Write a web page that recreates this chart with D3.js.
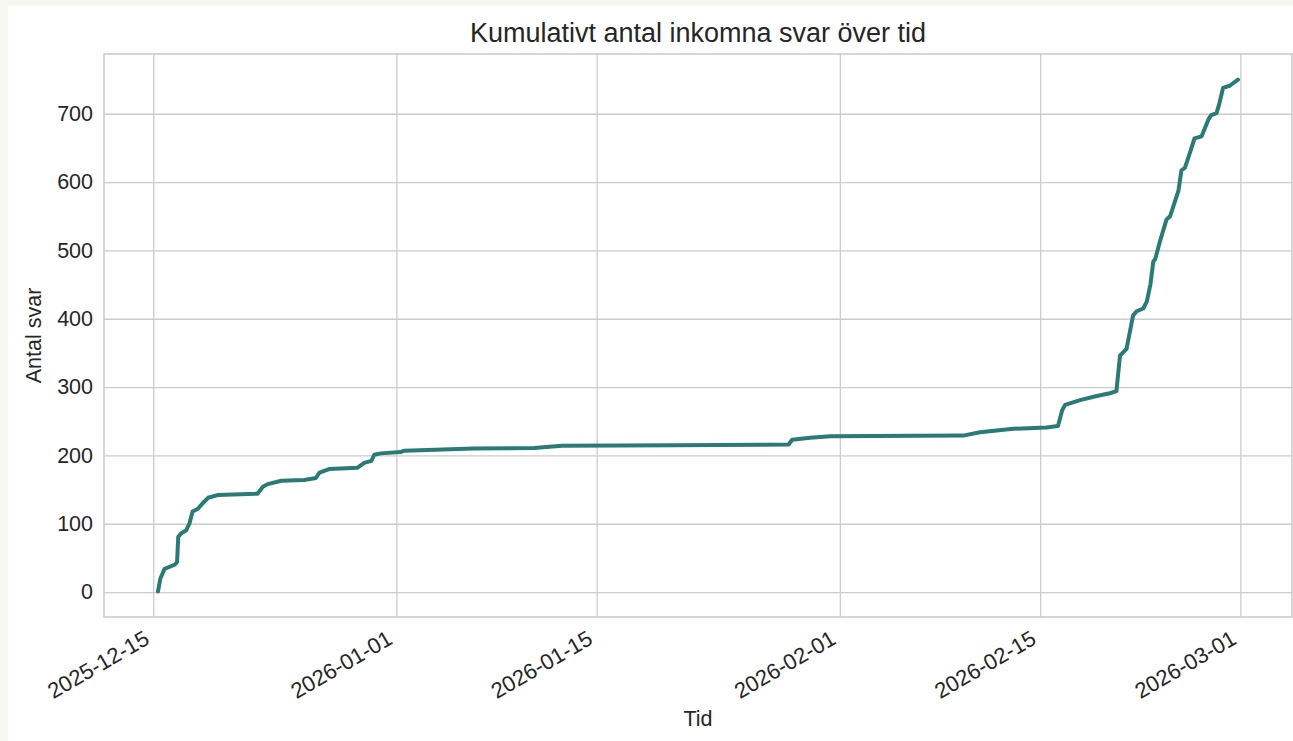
<!DOCTYPE html>
<html>
<head>
<meta charset="utf-8">
<script src="https://cdn.jsdelivr.net/npm/d3@7"></script>
<style>
  body { margin: 0; background: #f8f6f0; }
  #chart { position: absolute; left: 8px; top: 6px; }
  text { font-family: "Liberation Sans", Arial, sans-serif; fill: #262626; }
</style>
</head>
<body>
<div id="chart"></div>
<script>
// cumulative count of responses
const times = [
    "2025-12-15T08:00", "2025-12-15T12:00", "2025-12-15T19:00", "2025-12-16T12:00",
    "2025-12-16T16:00", "2025-12-16T18:00", "2025-12-16T23:00", "2025-12-17T07:00",
    "2025-12-17T13:00", "2025-12-17T18:00", "2025-12-18T03:00", "2025-12-18T11:00",
    "2025-12-18T20:00", "2025-12-19T12:00", "2025-12-22T07:00", "2025-12-22T16:00",
    "2025-12-23T00:00", "2025-12-23T23:00", "2025-12-25T13:00", "2025-12-26T09:00",
    "2025-12-26T15:00", "2025-12-27T07:00", "2025-12-29T07:00", "2025-12-29T18:00",
    "2025-12-30T06:00", "2025-12-30T11:00", "2025-12-30T22:00", "2026-01-01T07:00",
    "2026-01-01T13:00", "2026-01-06T10:00", "2026-01-10T15:00", "2026-01-12T14:00",
    "2026-01-20T10:00", "2026-01-28T10:00", "2026-01-28T16:00", "2026-01-29T22:00",
    "2026-01-31T08:00", "2026-02-09T15:00", "2026-02-10T19:00", "2026-02-13T03:00",
    "2026-02-15T11:00", "2026-02-16T06:00", "2026-02-16T13:00", "2026-02-16T18:00",
    "2026-02-17T19:00", "2026-02-18T23:00", "2026-02-19T21:00", "2026-02-20T08:00",
    "2026-02-20T14:00", "2026-02-21T01:00", "2026-02-21T12:00", "2026-02-21T18:00",
    "2026-02-22T05:00", "2026-02-22T11:00", "2026-02-22T17:00", "2026-02-22T22:00",
    "2026-02-23T01:00", "2026-02-23T09:00", "2026-02-23T20:00", "2026-02-24T02:00",
    "2026-02-24T16:00", "2026-02-24T21:00", "2026-02-25T03:00", "2026-02-25T11:00",
    "2026-02-25T19:00", "2026-02-26T07:00", "2026-02-26T18:00", "2026-02-26T23:00",
    "2026-02-27T08:00", "2026-02-27T13:00", "2026-02-27T19:00", "2026-02-28T06:00",
    "2026-02-28T20:00"
];
const counts = [
    1, 20, 34, 40, 44, 81, 86, 90, 101, 118, 122, 130,
    138, 142, 144, 154, 158, 163, 164, 167, 175, 180, 182, 189,
    192, 201, 203, 205, 207, 210, 211, 214, 215, 216, 223, 226,
    228, 229, 234, 239, 241, 243, 266, 274, 281, 287, 291, 294,
    346, 356, 405, 411, 415, 425, 450, 484, 487, 513, 545, 550,
    587, 617, 621, 642, 664, 667, 691, 698, 701, 716, 738, 741,
    750
];
const xTicks = ["2025-12-15", "2026-01-01", "2026-01-15", "2026-02-01", "2026-02-15", "2026-03-01"];
const yTicks = [0, 100, 200, 300, 400, 500, 600, 700];

const title = "Kumulativt antal inkomna svar över tid";
const xLabel = "Tid";
const yLabel = "Antal svar";

const width = 1285, height = 735;
const margin = {top: 48, right: 1, bottom: 124, left: 96};

const parse = d3.timeParse("%Y-%m-%dT%H:%M");
const parseDay = d3.timeParse("%Y-%m-%d");
const data = times.map((t, i) => ({t: parse(t), v: counts[i]}));

// matplotlib style 5% margins
const tExt = d3.extent(data, d => d.t);
const tPad = (tExt[1] - tExt[0]) * 0.05;
const vExt = d3.extent(data, d => d.v);
const vPad = (vExt[1] - vExt[0]) * 0.05;

const x = d3.scaleTime()
    .domain([new Date(+tExt[0] - tPad), new Date(+tExt[1] + tPad)])
    .range([margin.left, width - margin.right]);
const y = d3.scaleLinear()
    .domain([vExt[0] - vPad, vExt[1] + vPad])
    .range([height - margin.bottom, margin.top]);

const svg = d3.select("#chart").append("svg")
    .attr("width", width)
    .attr("height", height)
    .style("background", "#ffffff");

// grid
svg.append("g")
    .attr("transform", `translate(0,${height - margin.bottom})`)
    .call(d3.axisBottom(x).tickValues(xTicks.map(parseDay)).tickSize(-(height - margin.top - margin.bottom)).tickFormat(d3.timeFormat("%Y-%m-%d")))
    .call(g => g.select(".domain").remove())
    .call(g => g.selectAll(".tick line").attr("stroke", "#cccccc").attr("stroke-width", 1.3))
    .call(g => g.selectAll(".tick text")
        .attr("font-size", 22)
        .attr("text-anchor", "end")
        .attr("dy", null)
        .attr("y", 0)
        .attr("transform", "translate(-3,26) rotate(-30)"));

svg.append("g")
    .attr("transform", `translate(${margin.left},0)`)
    .call(d3.axisLeft(y).tickValues(yTicks).tickSize(-(width - margin.left - margin.right)))
    .call(g => g.select(".domain").remove())
    .call(g => g.selectAll(".tick line").attr("stroke", "#cccccc").attr("stroke-width", 1.3))
    .call(g => g.selectAll(".tick text").attr("font-size", 21.5).attr("x", -11));

// frame
svg.append("rect")
    .attr("x", margin.left)
    .attr("y", margin.top)
    .attr("width", width - margin.left - margin.right)
    .attr("height", height - margin.top - margin.bottom)
    .attr("fill", "none")
    .attr("stroke", "#cccccc")
    .attr("stroke-width", 1.6);

const line = d3.line()
    .x(d => x(d.t))
    .y(d => y(d.v));

svg.append("path")
    .datum(data)
    .attr("d", line)
    .attr("fill", "none")
    .attr("stroke", "#2a7a76")
    .attr("stroke-width", 4)
    .attr("stroke-linejoin", "round")
    .attr("stroke-linecap", "round");

svg.append("text")
    .attr("x", (margin.left + width - margin.right) / 2)
    .attr("y", 36)
    .attr("text-anchor", "middle")
    .attr("font-size", 27)
    .text(title);

svg.append("text")
    .attr("x", (margin.left + width - margin.right) / 2)
    .attr("y", 720)
    .attr("text-anchor", "middle")
    .attr("font-size", 21.5)
    .text(xLabel);

svg.append("text")
    .attr("transform", `translate(33,${(margin.top + height - margin.bottom) / 2}) rotate(-90)`)
    .attr("text-anchor", "middle")
    .attr("font-size", 21.5)
    .text(yLabel);
</script>
</body>
</html>
